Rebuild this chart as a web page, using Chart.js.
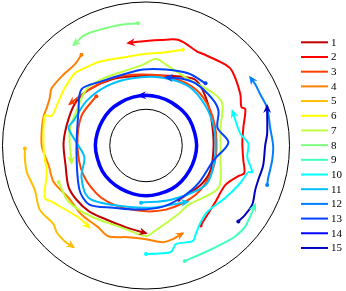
<!DOCTYPE html>
<html><head><meta charset="utf-8">
<script src="https://cdn.jsdelivr.net/npm/chart.js@4"></script>
<style>html,body{margin:0;padding:0;background:#fff}canvas{display:block}</style>
</head><body>
<canvas id="c" width="346" height="291"></canvas>
<script>
// Series labels and colours (jet colormap)
const labels = ['1','2','3','4','5','6','7','8','9','10','11','12','13','14','15'];
const colors = ['#bf0000','#ff0000','#ff4000','#ff8000','#ffbf00','#ffff00','#bfff40','#80ff80',
                '#40ffbf','#00ffff','#00bfff','#0080ff','#0040ff','#0000ff','#0000bf'];
// Domain geometry (outer/inner wall radius, same units as trajectories)
const outerRadius = 144.5;
const innerRadius = 36.5;
// Trajectories as [x, y] pairs
const traj1 = [[33,-55],[55,-40],[65,-25],[68,-2],[67,18],[63,40],[55,60],[47,68],[15,71],[-15,70],[-35,67],[-57,57],[-70,45],[-78,27],[-83,3],[-81,-20],[-78,-42],[-70,-55],[-57,-67],[-40,-75],[-20,-83],[0,-89]];
const traj2 = [[55,-81],[62,-70],[70,-57],[80,-40],[93,-31],[99,-28],[98,-15],[97,2],[98,18],[100,37],[96,39],[95,52],[87,75],[80,82],[57,93],[52,95],[33,107],[15,107],[0,106],[-18,104]];
const traj3 = [[-50,50],[-65,30],[-69,0],[-63,-30],[-45,-53],[-15,-65],[20,-65],[50,-50],[67,-25],[71,5],[65,35],[50,57],[25,69],[-5,72],[-35,68],[-60,55],[-77,42]];
const traj4 = [[-65,92],[-72,82],[-83,72],[-95,58],[-97,48],[-100,38],[-103,30],[-105,15],[-105,0],[-102,-10],[-98,-20],[-93,-37],[-78,-53],[-65,-70],[-48,-83],[-38,-92],[-18,-93],[0,-95],[17,-98],[27,-95],[37,-89]];
const traj5 = [[-122,-3],[-122,-12],[-120,-27],[-112,-45],[-107,-65],[-93,-80],[-90,-88],[-82,-97],[-73,-103]];
const traj6 = [[37,97],[15,94],[0,93],[-18,90],[-47,85],[-52,83],[-65,77],[-72,73],[-82,58],[-88,45],[-95,30],[-102,30],[-103,-5],[-100,-27],[-102,-53],[-95,-57],[-68,-73],[-57,-83]];
const traj7 = [[-88,-37],[-78,-57],[-55,-72],[-25,-83],[0,-92],[7,-88],[32,-70],[43,-60],[73,-43],[75,-15],[75,18],[77,42],[68,53],[43,67],[20,82],[10,88],[-3,82],[-23,75],[-43,68],[-60,57],[-70,35],[-77,15],[-75,-18]];
const traj8 = [[-8,124],[-28,122],[-48,117],[-62,112],[-73,102]];
const traj9 = [[39,-117],[60,-108],[82,-97],[90,-92],[100,-82],[110,-60]];
const traj10 = [[0,-110],[25,-108],[30,-100],[47,-97],[50,-90],[55,-78],[62,-67],[80,-53],[95,-38],[103,-27],[107,-27],[102,-12],[103,2],[95,12],[87,35]];
const traj11 = [[-5,-58],[25,-55],[60,-40],[69,-15],[69,15],[60,40],[43,60],[15,69],[-15,68],[-40,60],[-60,45],[-73,25],[-78,18],[-70,3],[-62,-12],[-65,-32],[-58,-53],[-35,-60],[5,-63],[42,-57]];
const traj12 = [[122,-40],[123,-33],[127,-15],[128,0],[125,18],[122,38],[115,52],[110,62],[105,69]];
const traj13 = [[60,63],[43,73],[20,77],[-3,77],[-23,72],[-45,65],[-65,57],[-68,35],[-70,-5],[-67,-45],[-57,-60],[-33,-63],[-7,-65],[17,-62],[37,-52],[53,-38],[68,-15],[83,3],[72,18],[73,35],[67,47],[50,63],[35,68],[20,69]];
const traj14 = [[36,36],[25,44],[13,49],[0,51],[-13,49],[-25,44],[-36,36],[-44,25],[-49,13],[-51,0],[-49,-13],[-44,-26],[-36,-36],[-25,-44],[-13,-49],[0,-51],[13,-49],[26,-44],[36,-36],[44,-25],[49,-13],[51,0],[49,13],[44,26],[36,36],[25,44],[13,49],[0,51],[-7,50.5]];
const traj15 = [[93,-77],[100,-70],[107,-60],[110,-45],[113,-35],[118,-20],[120,0],[122,12],[122,35],[122,40]];
const trajectories = [traj1,traj2,traj3,traj4,traj5,traj6,traj7,traj8,traj9,traj10,traj11,traj12,traj13,traj14,traj15];

const datasets = trajectories.map((t, i) => ({
  label: labels[i],
  data: t.map(([x, y]) => ({x, y})),
  borderColor: colors[i],
  backgroundColor: colors[i],
  borderWidth: i === 13 ? 3.5 : 2,
  showLine: true,
  tension: 0.3,
  pointRadius: ctx => (ctx.dataIndex === 0 && ctx.datasetIndex !== 13) ? 2 : 0,
  pointBorderWidth: 0,
  pointHoverRadius: 0,
  order: 15 - i
}));

const wallsPlugin = {
  id: 'walls',
  beforeDatasetsDraw(chart) {
    const {ctx, scales: {x, y}} = chart;
    const cx = x.getPixelForValue(0), cy = y.getPixelForValue(0);
    ctx.save();
    ctx.strokeStyle = '#000';
    ctx.lineWidth = 1;
    [outerRadius, innerRadius].forEach(r => {
      const rp = x.getPixelForValue(r) - cx;
      ctx.beginPath();
      ctx.arc(cx, cy, rp, 0, Math.PI * 2);
      ctx.stroke();
    });
    ctx.restore();
  }
};

const arrowPlugin = {
  id: 'arrows',
  afterDatasetsDraw(chart) {
    const ctx = chart.ctx;
    chart.data.datasets.forEach((ds, i) => {
      const meta = chart.getDatasetMeta(i);
      const pts = meta.data;
      const n = pts.length;
      if (n < 2) return;
      const p = pts[n - 1];
      let qx = p.cp1x, qy = p.cp1y;
      if (qx === undefined || Math.hypot(p.x - qx, p.y - qy) < 0.5) { qx = pts[n - 2].x; qy = pts[n - 2].y; }
      const a = Math.atan2(p.y - qy, p.x - qx);
      const L = 9, W = 4, N = 6;
      ctx.save();
      ctx.translate(p.x, p.y);
      ctx.rotate(a);
      ctx.fillStyle = ds.borderColor;
      ctx.beginPath();
      ctx.moveTo(2, 0);
      ctx.lineTo(-L + 2, -W);
      ctx.lineTo(-N + 2, 0);
      ctx.lineTo(-L + 2, W);
      ctx.closePath();
      ctx.fill();
      ctx.restore();
    });
  }
};

const legendPlugin = {
  id: 'sideLegend',
  afterDraw(chart) {
    const ctx = chart.ctx;
    ctx.save();
    ctx.font = '11px "Liberation Serif", "DejaVu Serif", serif';
    ctx.textBaseline = 'middle';
    ctx.textAlign = 'left';
    labels.forEach((lab, i) => {
      const yy = 42.3 + i * 14.69;
      ctx.strokeStyle = colors[i];
      ctx.lineWidth = 2;
      ctx.beginPath();
      ctx.moveTo(301, yy);
      ctx.lineTo(328, yy);
      ctx.stroke();
      ctx.fillStyle = '#000';
      ctx.fillText(lab, 331, yy + 0.5);
    });
    ctx.restore();
  }
};

new Chart(document.getElementById('c'), {
  type: 'scatter',
  data: { datasets },
  options: {
    responsive: false,
    animation: false,
    devicePixelRatio: 1,
    layout: { padding: { left: 0, right: 56, top: 0, bottom: 0 } },
    plugins: { legend: { display: false }, tooltip: { enabled: false } },
    scales: {
      x: { type: 'linear', min: -145, max: 145, display: false },
      y: { type: 'linear', min: -145.5, max: 145.5, display: false }
    },
    events: []
  },
  plugins: [wallsPlugin, arrowPlugin, legendPlugin]
});
</script>
</body></html>
